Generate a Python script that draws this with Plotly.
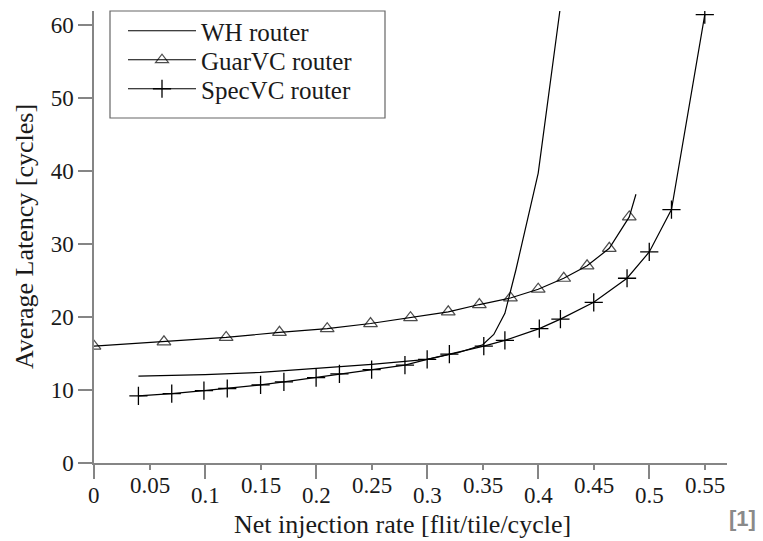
import plotly.graph_objects as go

# ---- data ----
wh_x = [0.04, 0.10, 0.15, 0.20, 0.25, 0.30, 0.33, 0.35, 0.36, 0.37, 0.38, 0.40, 0.42]
wh_y = [11.9, 12.1, 12.4, 12.9, 13.5, 14.2, 15.2, 16.2, 17.6, 20.5, 26.5, 39.7, 62.5]

guar_x = [0.0, 0.063, 0.119, 0.167, 0.21, 0.249, 0.285, 0.319, 0.347, 0.375,
          0.400, 0.423, 0.444, 0.464, 0.482, 0.488]
guar_y = [16.0, 16.6, 17.2, 17.9, 18.4, 19.1, 19.9, 20.7, 21.7, 22.6,
          23.8, 25.3, 27.0, 29.4, 33.7, 36.8]
guar_marker_sizes = [12] * 15 + [0]

spec_x = [0.040, 0.070, 0.099, 0.120, 0.150, 0.171, 0.200, 0.221, 0.250, 0.280,
          0.300, 0.320, 0.351, 0.370, 0.401, 0.420, 0.450, 0.480, 0.500, 0.520, 0.550]
spec_y = [9.2, 9.5, 9.9, 10.2, 10.7, 11.1, 11.7, 12.2, 12.8, 13.4,
          14.2, 14.9, 16.0, 16.8, 18.4, 19.7, 22.0, 25.3, 28.9, 34.7, 61.4]

x_ticks = [0, 0.05, 0.1, 0.15, 0.2, 0.25, 0.3, 0.35, 0.4, 0.45, 0.5, 0.55]
x_tick_text = ["0", "0.05", "0.1", "0.15", "0.2", "0.25", "0.3", "0.35", "0.4", "0.45", "0.5", "0.55"]
y_ticks = [0, 10, 20, 30, 40, 50, 60]

SERIF = "Liberation Serif, Times New Roman, DejaVu Serif, serif"
AXIS_COLOR = "#858585"
TEXT_COLOR = "#1a1a1a"

fig = go.Figure()
fig.add_trace(go.Scatter(x=wh_x, y=wh_y, mode="lines", name="WH router", legend="legend",
                         line=dict(color="black", width=1.2)))
fig.add_trace(go.Scatter(x=guar_x, y=guar_y, mode="lines+markers", name="GuarVC router",
                         legend="legend2",
                         line=dict(color="black", width=1.2),
                         marker=dict(symbol="triangle-up-open", size=guar_marker_sizes,
                                     color="black", line=dict(width=1.2, color="black"))))
fig.add_trace(go.Scatter(x=spec_x, y=spec_y, mode="lines+markers", name="SpecVC router",
                         legend="legend3",
                         line=dict(color="black", width=1.2),
                         marker=dict(symbol="cross-thin", size=13,
                                     color="black", line=dict(width=1.3, color="black"))))

# plot area in pixels: x 94..727, y 11..463
W, H = 763, 541
L, R, T, B = 94, 36, 11, 78
pw, ph = W - L - R, H - T - B


def px_x(p):
    return (p - L) / pw


def px_y(p):
    return (H - B - p) / ph


annotations = []
for v, t in zip(x_ticks, x_tick_text):
    odd = round(v / 0.05) % 2 == 1
    annotations.append(dict(x=v, y=0, xref="x", yref="paper", text=t, showarrow=False,
                            xanchor="center", yanchor="middle",
                            yshift=-(22 if odd else 32),
                            font=dict(family=SERIF, size=23, color=TEXT_COLOR)))
annotations.append(dict(x=px_x(402), y=0, xref="paper", yref="paper",
                        text="Net injection rate [flit/tile/cycle]", showarrow=False,
                        xanchor="center", yanchor="middle", yshift=-(524 - (H - B)),
                        font=dict(family=SERIF, size=26, color=TEXT_COLOR)))
annotations.append(dict(x=px_x(24), y=0.5, xref="paper", yref="paper",
                        text="Average Latency [cycles]", showarrow=False, textangle=-90,
                        xanchor="center", yanchor="middle",
                        font=dict(family=SERIF, size=26, color=TEXT_COLOR)))
annotations.append(dict(x=px_x(742), y=0, xref="paper", yref="paper",
                        text="<b>[1]</b>", showarrow=False,
                        xanchor="center", yanchor="middle", yshift=-(518 - (H - B)),
                        font=dict(family="Liberation Sans, Arial, sans-serif", size=22, color="#8a8a8a")))

legend_common = dict(xanchor="left", yanchor="middle", borderwidth=0,
                     bgcolor="rgba(0,0,0,0)",
                     font=dict(family=SERIF, size=25, color=TEXT_COLOR),
                     itemwidth=68)

fig.update_layout(
    width=W, height=H,
    margin=dict(l=L, r=R, t=T, b=B, pad=0, autoexpand=False),
    plot_bgcolor="white", paper_bgcolor="white",
    showlegend=True,
    legend=dict(x=px_x(123), y=px_y(31), **legend_common),
    legend2=dict(x=px_x(123), y=px_y(60), **legend_common),
    legend3=dict(x=px_x(123), y=px_y(89), **legend_common),
    shapes=[dict(type="rect", xref="paper", yref="paper",
                 x0=px_x(110), x1=px_x(385), y0=px_y(118), y1=px_y(11),
                 line=dict(color="#666666", width=1.2), fillcolor="white",
                 layer="below")],
    annotations=annotations,
    xaxis=dict(range=[0, 0.570], showgrid=False, zeroline=False,
               showline=True, linecolor=AXIS_COLOR, linewidth=1.5,
               tickmode="array", tickvals=[0, 0.1, 0.2, 0.3, 0.4, 0.5],
               ticks="outside", ticklen=14, tickwidth=1.5, tickcolor=AXIS_COLOR,
               showticklabels=False,
               minor=dict(tickmode="array", tickvals=[0.05, 0.15, 0.25, 0.35, 0.45, 0.55],
                          ticks="outside", ticklen=5, tickwidth=1.5, tickcolor=AXIS_COLOR)),
    yaxis=dict(range=[0, 61.9], showgrid=False, zeroline=False,
               showline=True, linecolor=AXIS_COLOR, linewidth=1.5,
               tickmode="array", tickvals=y_ticks,
               ticktext=[str(v) for v in y_ticks],
               ticks="outside", ticklen=14, tickwidth=1.5, tickcolor=AXIS_COLOR,
               tickfont=dict(family=SERIF, size=23, color=TEXT_COLOR),
               minor=dict(tickmode="array", tickvals=[10, 30, 50],
                          ticks="outside", ticklen=5, tickwidth=1.5, tickcolor=AXIS_COLOR)),
)

fig.write_html("out.html")
